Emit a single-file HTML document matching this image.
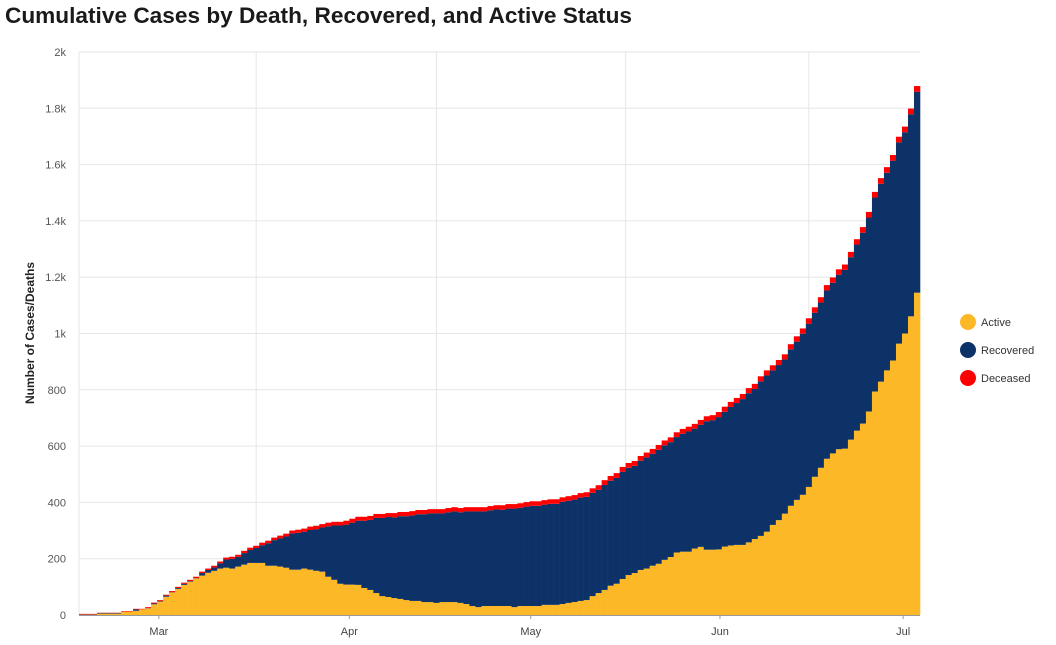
<!DOCTYPE html>
<html><head><meta charset="utf-8"><style>
html,body{margin:0;padding:0;background:#fff;width:1056px;height:645px;overflow:hidden}
svg{display:block;font-family:"Liberation Sans",sans-serif}
</style></head><body>
<svg id="chart" width="1056" height="645" viewBox="0 0 1056 645">
<text x="5" y="23" font-size="22" font-weight="bold" fill="#1a1a1a" textLength="627" lengthAdjust="spacingAndGlyphs">Cumulative Cases by Death, Recovered, and Active Status</text>
<g id="grid"></g>
<g id="bars"></g>
<g id="axes"></g>
<text transform="translate(34,333) rotate(-90)" text-anchor="middle" font-size="12" font-weight="bold" fill="#222">Number of Cases/Deaths</text>
<g id="legend"></g>
</svg>
<script>
const confirmed = [4,4,4,8,8,8,8,14,14,22,22,28,44,53,72,85,100,115,125,136,154,165,175,190,204,207,214,228,239,246,257,264,275,282,289,300,303,307,314,317,323,328,331,331,335,342,349,349,
352,359,359,362,362,366,366,369,373,373,376,376,376,380,383,380,383,383,383,383,387,390,390,394,394,397,401,404,404,408,411,411,418,422,426,433,436,450,461,479,494,504,526,540,547,565,
577,590,604,620,631,649,661,669,679,693,706,710,721,740,757,771,785,806,821,848,869,887,906,926,962,990,1018,1054,1093,1129,1172,1199,1228,1245,1290,1335,1378,1432,1503,1552,1591,1634,1699,1735,1799,1879];
const active = [1,1,1,5,5,5,5,12,12,15,20,24,38,48,65,80,93,107,118,130,140,150,157,165,168,165,172,179,185,185,185,175,175,172,168,161,161,165,161,157,154,136,125,111,108,108,107,96,
89,78,67,64,60,57,53,50,50,46,46,43,46,46,46,43,39,32,28,32,32,32,32,32,28,32,32,32,32,36,36,36,39,43,46,50,53,67,78,89,104,111,128,142,149,160,
165,175,182,196,206,222,225,225,236,242,232,232,233,243,247,249,249,258,270,281,296,320,337,360,388,409,427,455,491,523,555,574,589,591,623,655,680,723,794,829,869,904,964,1000,1061,1145];
const deceased = [2,2,2,1,1,1,1,2,2,2,2,3,3,3,3,4,4,4,5,5,
5,5,6,6,7,7,7,8,8,8,9,9,9,10,10,10,11,11,12,12,
12,13,13,13,14,14,14,14,14,14,14,14,15,15,15,15,15,15,15,15,
15,15,15,15,15,15,15,15,15,15,16,16,16,16,16,16,16,16,16,16,
16,16,16,16,16,16,16,17,17,17,17,17,17,17,17,17,17,17,17,17,
17,17,17,17,18,18,18,18,18,18,18,18,18,18,18,18,18,18,18,19,
19,19,19,19,19,19,19,19,19,19,20,20,20,20,20,20,20,20,20,20];
const yTicks = [0,200,400,600,800,1000,1200,1400,1600,1800,2000];
const yTickLabels = ["0","200","400","600","800","1k","1.2k","1.4k","1.6k","1.8k","2k"];
const monthLabels = ["Mar","Apr","May","Jun","Jul"];
const monthStartIndex = [13.3,45,75.2,106.7,137.2];
const xGridIndex = [29.5,59.5,91,121.5];
const seriesNames = ["Active","Recovered","Deceased"];
const seriesColors = ["#FDB827","#0C3268","#FF0000"];

const NS="http://www.w3.org/2000/svg";
const L=79,R=920,T=52,B=615;
const N=confirmed.length;
const bw=(R-L)/N;
const x=i=>L+i*bw;
const y=v=>B-(v/2000)*(B-T);
function mk(tag,attrs,parent){const e=document.createElementNS(NS,tag);for(const k in attrs)e.setAttribute(k,attrs[k]);parent.appendChild(e);return e;}
const grid=document.getElementById('grid'),bars=document.getElementById('bars'),axes=document.getElementById('axes'),legend=document.getElementById('legend');

yTicks.forEach((t,i)=>{
  if(t>0){const g=mk('line',{x1:L,x2:R,y1:y(t),y2:y(t),stroke:'#e6e6e6','stroke-width':1},grid);
  
  }
  const lb=mk('text',{x:66,y:y(t)+4,'text-anchor':'end','font-size':11,fill:'#555'},axes);
  lb.textContent=yTickLabels[i];
  
  
});
xGridIndex.forEach(gi=>{
  const g=mk('line',{x1:x(gi),x2:x(gi),y1:T,y2:B,stroke:'#e6e6e6','stroke-width':1},grid);
  
  
});
const ya=mk('line',{x1:L,x2:L,y1:T,y2:B,stroke:'#e6e6e6'},grid);



for(let i=0;i<N;i++){
  const a=active[i],d=deceased[i],r=Math.max(0,confirmed[i]-a-d);
  const vals=[a,r,d];let base=0;
  vals.forEach((v,s)=>{
    if(v<=0)return;
    const rc=mk('rect',{x:x(i),y:y(base+v),width:bw+0.3,height:y(base)-y(base+v),fill:seriesColors[s]},bars);
    
    
    base+=v;
  });
}
const xa=mk('line',{x1:L,x2:R,y1:B+0.5,y2:B+0.5,stroke:'#999','stroke-width':1},axes);


monthLabels.forEach((m,i)=>{
  const cx=x(monthStartIndex[i]);
  const tk=mk('line',{x1:cx,x2:cx,y1:B,y2:B+4,stroke:'#999'},axes);
  
  
  const t=mk('text',{x:cx,y:B+20,'text-anchor':'middle','font-size':11,fill:'#444'},axes);
  t.textContent=m;
  
  
});
seriesNames.forEach((n,i)=>{
  const cy=322+i*28;
  const c=mk('circle',{cx:968,cy:cy,r:8,fill:seriesColors[i]},legend);
  
  
  const t=mk('text',{x:981,y:cy+4,'font-size':11,fill:'#333'},legend);
  t.textContent=n;
  
  
});
</script>
</body></html>
